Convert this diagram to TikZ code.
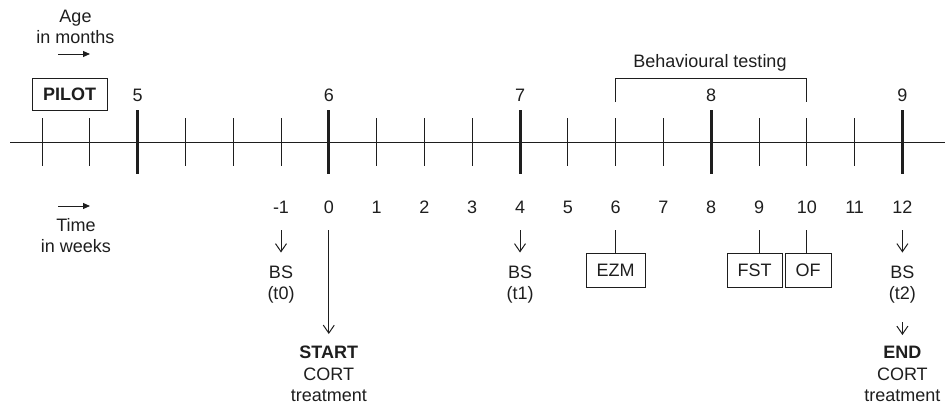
\documentclass[tikz,border=0pt]{standalone}
\usepackage{fontspec}
\setmainfont{Liberation Sans}
\usetikzlibrary{arrows.meta,calc}
\definecolor{ink}{HTML}{1E1E1E}
\tikzset{
  txt/.style={inner sep=0pt, text=ink, font=\fontsize{18}{21.5}\selectfont, align=center},
  num/.style={txt, text height=13pt, text depth=0pt},
  thin/.style={draw=ink, line width=1pt},
  thick/.style={draw=ink, line width=3pt},
  downarr/.style={thin, -{Straight Barb[length=8pt,width=11pt,line width=1pt]}},
  axisarr/.style={thin, -{Triangle[length=7pt,width=6pt]}},
  evbox/.style={txt, draw=ink, line width=1pt, minimum height=34pt, text height=13pt, text depth=0pt},
}
\begin{document}
\begin{tikzpicture}[x=1pt,y=-1pt]
\useasboundingbox (0,0) rectangle (945,408);

% main axis
\coordinate (lineL) at (10,142);
\coordinate (lineR) at (945,142);
\draw[thin] (lineL) -- (lineR);

% ticks
\foreach \i in {0,...,18} {
  \coordinate (t\i) at ({42+47.8*\i},142);
}
\foreach \i in {0,1,3,4,5,7,8,9,11,12,13,15,16,17} {
  \draw[thin] ($(t\i)+(0,-24)$) -- ($(t\i)+(0,24)$);
}
\foreach \i in {2,6,10,14,18} {
  \draw[thick] ($(t\i)+(0,-32)$) -- ($(t\i)+(0,32)$);
}

% month labels
\foreach \i/\m in {2/5,6/6,10/7,14/8,18/9} {
  \node[num] (m\m) at ($(t\i)+(0,-47)$) {\m};
}

% week labels
\foreach \i in {5,...,18} {
  \pgfmathtruncatemacro{\w}{\i-6}
  \node[num] (w\i) at ($(t\i)+(0,65)$) {\w};
}

% age / time headers
\node[txt] (age) at (75.5,27) {Age\\in months};
\coordinate (agea) at (58,54);
\coordinate (ageb) at (90,54);
\draw[axisarr] (agea) -- (ageb);

\coordinate (timea) at (58,206);
\coordinate (timeb) at (90,206);
\draw[axisarr] (timea) -- (timeb);
\node[txt] (time) at (76,235.5) {Time\\in weeks};

% pilot
\node[txt, draw=ink, line width=1pt, minimum width=75pt, minimum height=32pt, font=\fontsize{18}{21.5}\selectfont\bfseries] (pilot) at (69.5,94) {PILOT};

% behavioural testing bracket
\coordinate (bl0) at ($(t12)+(0,-40)$);
\coordinate (bl1) at ($(t12)+(0,-64)$);
\coordinate (br1) at ($(t16)+(0,-64)$);
\coordinate (br0) at ($(t16)+(0,-40)$);
\draw[thin] (bl0) -- (bl1) -- (br1) -- (br0);
\node[txt] (beh) at (710,63) {Behavioural testing};

% blood samples
\node[txt] (bs0) at ($(t5)+(0,142.5)$) {BS\\(t0)};
\node[txt] (bs1) at ($(t10)+(0,142.5)$) {BS\\(t1)};
\node[txt] (bs2) at ($(t18)+(0,142.5)$) {BS\\(t2)};
\draw[downarr] ($(w5.center)+(0,23)$) -- ($(bs0.center)+(0,-32)$);
\draw[downarr] ($(w10.center)+(0,23)$) -- ($(bs1.center)+(0,-32)$);
\draw[downarr] ($(w18.center)+(0,23)$) -- ($(bs2.center)+(0,-32)$);

% start / end
\node[txt] (start) at ($(t6)+(0,232)$) {\textbf{START}\\CORT\\treatment};
\node[txt] (end) at ($(t18)+(0,232)$) {\textbf{END}\\CORT\\treatment};
\draw[downarr] ($(w6.center)+(0,23)$) -- ($(start.center)+(0,-40)$);
\draw[downarr] ($(bs2.center)+(0,37.5)$) -- ($(end.center)+(0,-39)$);

% behavioural tests
\node[evbox, minimum width=59pt] (ezm) at (615.5,270) {EZM};
\node[evbox, minimum width=55pt] (fst) at (754.5,270) {FST};
\node[evbox, minimum width=46pt] (of) at (808,270) {OF};
\draw[thin] ($(w12.center)+(0,23)$) -- (w12 |- ezm.north);
\draw[thin] ($(w15.center)+(0,23)$) -- (w15 |- fst.north);
\draw[thin] ($(w16.center)+(0,23)$) -- (w16 |- of.north);
\end{tikzpicture}
\end{document}
